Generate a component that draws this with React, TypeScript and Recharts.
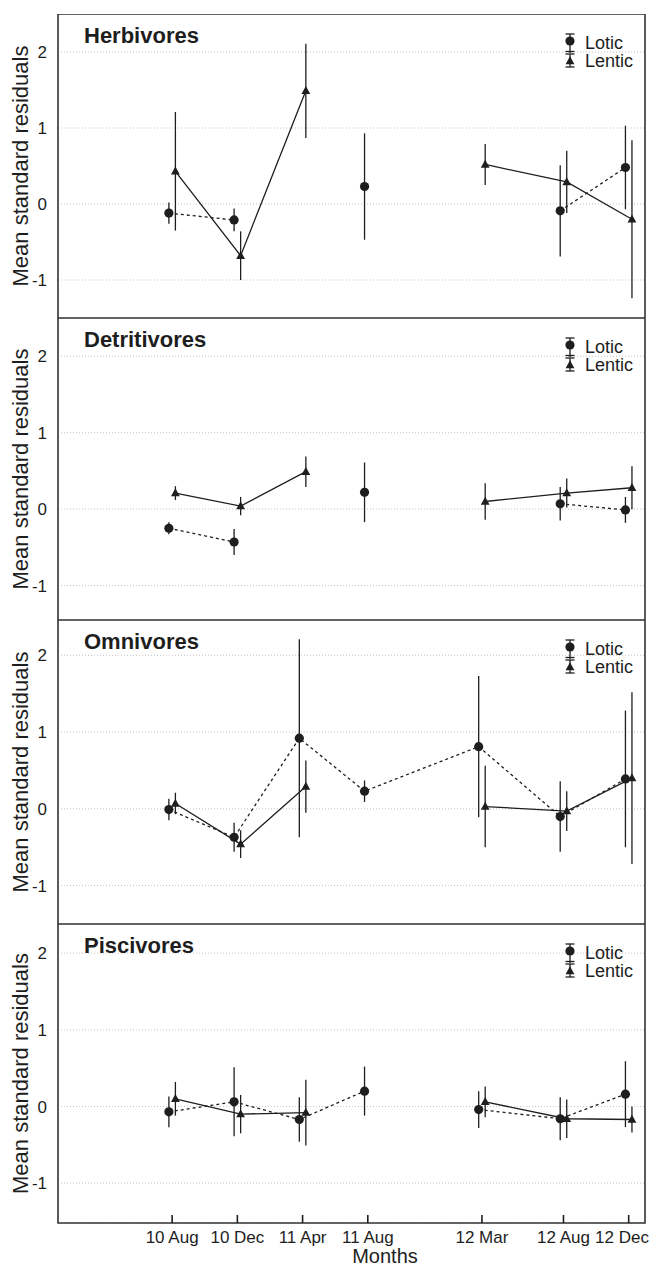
import React from 'react';
import { ComposedChart, Line, Scatter, XAxis, YAxis, CartesianGrid, ErrorBar, ReferenceArea } from 'recharts';

const FONT = '"Liberation Sans", Arial, sans-serif';
const INK = '#1e1e1e';

// sampling dates, in months counted from Aug 2010
const months = [0, 4, 8, 12, 19, 24, 28];
const monthLabels = ['10 Aug', '10 Dec', '11 Apr', '11 Aug', '12 Mar', '12 Aug', '12 Dec'];
const yTicks = [-1, 0, 1, 2];

// Herbivores
const herbLotic = [-0.12, -0.21, null, 0.23, null, -0.09, 0.48];
const herbLoticSE = [0.14, 0.15, null, 0.7, null, 0.6, 0.55];
const herbLentic = [0.43, -0.68, 1.49, null, 0.52, 0.29, -0.2];
const herbLenticSE = [0.78, 0.32, 0.62, null, 0.27, 0.41, 1.04];

// Detritivores
const detrLotic = [-0.25, -0.43, null, 0.22, null, 0.07, -0.01];
const detrLoticSE = [0.08, 0.17, null, 0.39, null, 0.22, 0.17];
const detrLentic = [0.21, 0.04, 0.49, null, 0.1, 0.21, 0.28];
const detrLenticSE = [0.09, 0.12, 0.2, null, 0.24, 0.19, 0.28];

// Omnivores
const omniLotic = [-0.01, -0.37, 0.92, 0.23, 0.81, -0.1, 0.39];
const omniLoticSE = [0.14, 0.19, 1.29, 0.14, 0.92, 0.46, 0.89];
const omniLentic = [0.07, -0.46, 0.29, null, 0.03, -0.03, 0.4];
const omniLenticSE = [0.14, 0.18, 0.34, null, 0.53, 0.26, 1.12];

// Piscivores
const pisciLotic = [-0.07, 0.06, -0.17, 0.2, -0.04, -0.16, 0.16];
const pisciLoticSE = [0.2, 0.45, 0.29, 0.32, 0.24, 0.28, 0.43];
const pisciLentic = [0.1, -0.1, -0.08, null, 0.06, -0.16, -0.17];
const pisciLenticSE = [0.22, 0.25, 0.43, null, 0.2, 0.25, 0.17];

// which dates are joined by a line ([first, last] index)
const herbLoticRuns = [[0, 1], [5, 6]];
const herbLenticRuns = [[0, 2], [4, 6]];
const detrLoticRuns = [[0, 1], [5, 6]];
const detrLenticRuns = [[0, 2], [4, 6]];
const omniLoticRuns = [[0, 6]];
const omniLenticRuns = [[0, 2], [4, 6]];
const pisciLoticRuns = [[0, 3], [4, 6]];
const pisciLenticRuns = [[0, 2], [4, 6]];

const panels = [
  { title: 'Herbivores', lotic: herbLotic, loticSE: herbLoticSE, lentic: herbLentic, lenticSE: herbLenticSE, loticRuns: herbLoticRuns, lenticRuns: herbLenticRuns, top: 14, plotH: 304, domain: [-1.5, 2.5] },
  { title: 'Detritivores', lotic: detrLotic, loticSE: detrLoticSE, lentic: detrLentic, lenticSE: detrLenticSE, loticRuns: detrLoticRuns, lenticRuns: detrLenticRuns, top: 318, plotH: 302, domain: [-1.45, 2.5] },
  { title: 'Omnivores', lotic: omniLotic, loticSE: omniLoticSE, lentic: omniLentic, lenticSE: omniLenticSE, loticRuns: omniLoticRuns, lenticRuns: omniLenticRuns, top: 620, plotH: 304, domain: [-1.5, 2.46] },
  { title: 'Piscivores', lotic: pisciLotic, loticSE: pisciLoticSE, lentic: pisciLentic, lenticSE: pisciLenticSE, loticRuns: pisciLoticRuns, lenticRuns: pisciLenticRuns, top: 924, plotH: 299, domain: [-1.52, 2.38] },
];

const X_DOMAIN = [-7, 29];
const SHIFT = 0.2; // lotic drawn a bit left, lentic a bit right

const toPoints = (vals: (number | null)[], se: (number | null)[], dx: number) =>
  months.map((m, i) => ({ idx: i, x: m + dx, y: vals[i], err: se[i] }));

const Circle = (props: any) => <circle cx={props.cx} cy={props.cy} r={4.6} fill={INK} />;
const Triangle = (props: any) => {
  const { cx, cy } = props;
  return <path d={`M${cx},${cy - 4.8} L${cx + 4.4},${cy + 3.2} L${cx - 4.4},${cy + 3.2} Z`} fill={INK} />;
};

const MonthTick = (props: any) => {
  const { x, y, payload, showLabel } = props;
  const i = months.indexOf(payload.value);
  const lx = Math.min(x, 622);
  return (
    <g>
      <line x1={x} x2={x} y1={y} y2={y - 8} stroke={INK} strokeWidth={1.6} />
      {showLabel && (
        <text x={lx} y={y + 20} textAnchor="middle" fontSize={17} fill={INK} fontFamily={FONT}>
          {monthLabels[i]}
        </text>
      )}
    </g>
  );
};

const Panel = ({ p, last }: { p: any; last: boolean }) => {
  const axisH = last ? 44 : 0;
  const height = p.plotH + axisH;
  const loticPts = toPoints(p.lotic, p.loticSE, -SHIFT);
  const lenticPts = toPoints(p.lentic, p.lenticSE, SHIFT);
  const runs = (pts: any[], rr: number[][]) => rr.map(([a, b]) => pts.slice(a, b + 1));

  return (
    <div style={{ position: 'absolute', left: 0, top: p.top, width: 649, height }}>
      <ComposedChart width={649} height={height} margin={{ top: 0, right: 4, bottom: 0, left: 0 }}>
        <CartesianGrid vertical={false} stroke="#c4c4c4" strokeDasharray="1 2" />
        <XAxis
          type="number"
          dataKey="x"
          domain={X_DOMAIN}
          ticks={months}
          interval={0}
          allowDataOverflow
          axisLine={false}
          tickLine={false}
          tickSize={0}
          tickMargin={0}
          height={axisH}
          tick={(tp: any) => <MonthTick {...tp} showLabel={last} />}
          label={
            last
              ? () => (
                  <text x={385} y={p.plotH + 40} textAnchor="middle" fontSize={20} fill={INK} fontFamily={FONT}>
                    Months
                  </text>
                )
              : undefined
          }
        />
        <YAxis
          type="number"
          dataKey="y"
          domain={p.domain}
          ticks={yTicks}
          allowDataOverflow
          width={58}
          axisLine={false}
          tickLine={false}
          tickMargin={5}
          tick={{ fontSize: 17, fill: INK, fontFamily: FONT }}
          label={() => (
            <text
              transform={`translate(28, ${p.plotH / 2}) rotate(-90)`}
              textAnchor="middle"
              fontSize={22}
              fill={INK}
              fontFamily={FONT}
            >
              Mean standard residuals
            </text>
          )}
        />
        <ReferenceArea
          x1={X_DOMAIN[0]}
          x2={X_DOMAIN[1]}
          y1={p.domain[0]}
          y2={p.domain[1]}
          fill="none"
          stroke="#333"
          strokeWidth={1.6}
        />
        {runs(loticPts, p.loticRuns).map((d, k) => (
          <Line
            key={'lo' + k}
            data={d}
            dataKey="y"
            type="linear"
            stroke={INK}
            strokeWidth={1.3}
            strokeDasharray="3 3"
            dot={false}
            activeDot={false}
            isAnimationActive={false}
          />
        ))}
        {runs(lenticPts, p.lenticRuns).map((d, k) => (
          <Line
            key={'le' + k}
            data={d}
            dataKey="y"
            type="linear"
            stroke={INK}
            strokeWidth={1.3}
            dot={false}
            activeDot={false}
            isAnimationActive={false}
          />
        ))}
        <Scatter data={loticPts.filter((d) => d.y !== null)} shape={Circle} isAnimationActive={false}>
          <ErrorBar dataKey="err" direction="y" width={0} stroke={INK} strokeWidth={1.3} />
        </Scatter>
        <Scatter data={lenticPts.filter((d) => d.y !== null)} shape={Triangle} isAnimationActive={false}>
          <ErrorBar dataKey="err" direction="y" width={0} stroke={INK} strokeWidth={1.3} />
        </Scatter>
      </ComposedChart>

      {/* title + legend */}
      <svg width={649} height={p.plotH} style={{ position: 'absolute', left: 0, top: 0, pointerEvents: 'none' }}>
        <text x={84} y={29} fontSize={22} fontWeight="bold" fill={INK} fontFamily={FONT}>
          {p.title}
        </text>
        <g stroke={INK} strokeWidth={1.3}>
          <line x1={570} x2={570} y1={20} y2={39} />
          <line x1={565.5} x2={574.5} y1={20} y2={20} />
          <line x1={565.5} x2={574.5} y1={37.5} y2={37.5} />
          <line x1={570} x2={570} y1={40} y2={53} />
          <line x1={565.5} x2={574.5} y1={40} y2={40} />
          <line x1={565.5} x2={574.5} y1={53} y2={53} />
        </g>
        <Circle cx={570} cy={27} />
        <Triangle cx={570} cy={47} />
        <text x={585} y={35} fontSize={18} fill={INK} fontFamily={FONT}>Lotic</text>
        <text x={585} y={53} fontSize={18} fill={INK} fontFamily={FONT}>Lentic</text>
      </svg>
    </div>
  );
}

export default function App() {
  return (
    <div style={{ position: 'absolute', left: 0, top: 0, width: 649, height: 1267, background: '#fff' }}>
      {panels.map((p, i) => (
        <Panel key={p.title} p={p} last={i === panels.length - 1} />
      ))}
    </div>
  );
}
